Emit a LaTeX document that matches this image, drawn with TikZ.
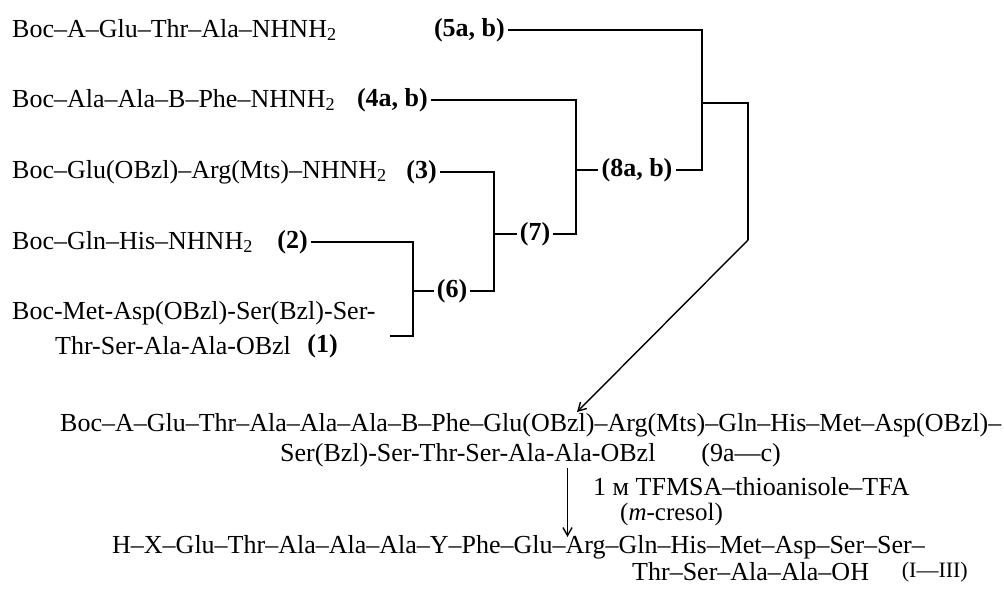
\documentclass[tikz,border=0pt]{standalone}
\usepackage{fontspec}
\setmainfont{Liberation Serif}
\usetikzlibrary{arrows.meta}
\begin{document}
\begin{tikzpicture}[x=1pt,y=-1pt,
  txt/.style={inner sep=0pt,font=\fontsize{26}{30}\selectfont},
  pep/.style={txt,anchor=west},
  num/.style={txt,inner sep=3pt,font=\fontsize{26}{30}\selectfont\bfseries},
  link/.style={line width=1.4pt},
  tipped/.style={link,arrows={-Straight Barb[length=8pt,width=9pt,line width=1.4pt]}}]
\useasboundingbox (0,0) rectangle (1004,594);

% starting fragments
\node[pep] (p5) at (12,30) {Boc–A–Glu–Thr–Ala–NHNH\textsubscript{2}};
\node[num,anchor=east] (n5) at (508,30) {(5a, b)};
\node[pep] (p4) at (12,100) {Boc–Ala–Ala–B–Phe–NHNH\textsubscript{2}};
\node[num,anchor=east] (n4) at (431,100) {(4a, b)};
\node[pep] (p3) at (12,172) {Boc–Glu(OBzl)–Arg(Mts)–NHNH\textsubscript{2}};
\node[num,anchor=east] (n3) at (440,172) {(3)};
\node[pep] (p2) at (12,242) {Boc–Gln–His–NHNH\textsubscript{2}};
\node[num,anchor=east] (n2) at (311,242) {(2)};
\node[pep] (p1a) at (12,313) {Boc-Met-Asp(OBzl)-Ser(Bzl)-Ser-};
\node[pep] (p1b) at (55,346) {Thr-Ser-Ala-Ala-OBzl};
\node[num,anchor=east] (n1) at (341,346) {(1)};

% condensation products
\node[num] (n6) at (452,291) {(6)};
\node[num] (n7) at (535,234) {(7)};
\node[num] (n8) at (637,170) {(8a, b)};

% bracket corners
\coordinate (b6) at (413,291);
\coordinate (b7) at (494,234);
\coordinate (b8) at (576,170);
\coordinate (c5) at (702,103);
\coordinate (e1) at (390,336);
\coordinate (d1) at (748,103);
\coordinate (d2) at (748,240);
\coordinate (tip) at (577,412);

\draw[link] (n2.east) -| (b6) |- (e1);
\draw[link] (b6) -- (n6.west);
\draw[link] (n3.east) -| (b7) |- (n6.east);
\draw[link] (b7) -- (n7.west);
\draw[link] (n4.east) -| (b8) |- (n7.east);
\draw[link] (b8) -- (n8.west);
\draw[link] (n5.east) -| (c5) |- (n8.east);
\draw[link] (c5) -- (d1) -- (d2);
\draw[tipped] (d2) -- (tip);

% protected peptide
\node[pep] (p9a) at (60,425) {Boc–A–Glu–Thr–Ala–Ala–Ala–B–Phe–Glu(OBzl)–Arg(Mts)–Gln–His–Met–Asp(OBzl)–};
\node[pep] (p9b) at (280,455) {Ser(Bzl)-Ser-Thr-Ser-Ala-Ala-OBzl};
\node[txt,anchor=east] (n9) at (781,455) {(9a—c)};

% deprotection
\coordinate (a1) at (567.5,468);
\coordinate (a2) at (567.5,537);
\draw[tipped] (a1) -- (a2);
\node[pep] (r1) at (593,487) {1 м TFMSA–thioanisole–TFA};
\node[pep,font=\fontsize{25}{28}\selectfont] (r2) at (620,514) {(\textit{m}-cresol)};

% free peptide
\node[pep] (f1) at (112,547) {H–X–Glu–Thr–Ala–Ala–Ala–Y–Phe–Glu–Arg–Gln–His–Met–Asp–Ser–Ser–};
\node[pep] (f2) at (632,572) {Thr–Ser–Ala–Ala–OH};
\node[txt,anchor=east,font=\fontsize{22}{26}\selectfont] (nI) at (968,572) {(I—III)};
\end{tikzpicture}
\end{document}
